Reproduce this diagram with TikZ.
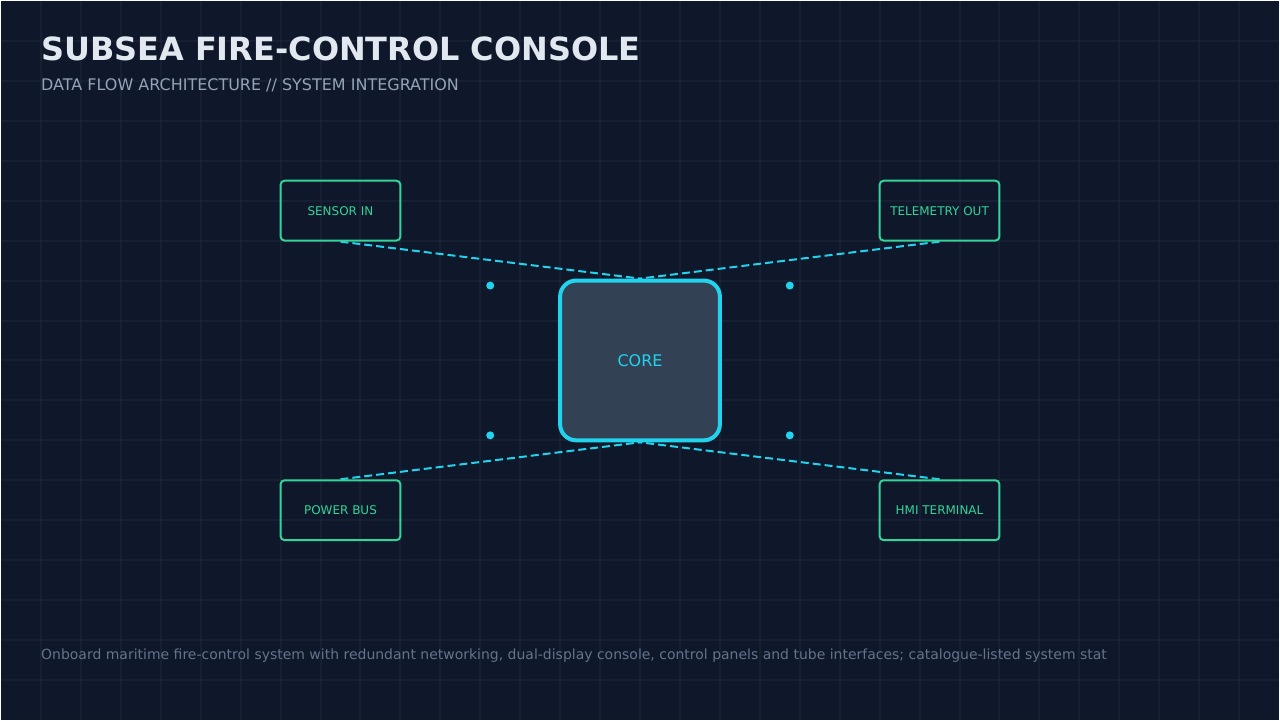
\documentclass[tikz,border=0pt]{standalone}
\usepackage{fontspec}
\setmainfont{DejaVu Sans}
\usepackage{xcolor}
\usepackage{tikz}

\definecolor{bgnavy}{HTML}{0F172A}
\definecolor{gridline}{HTML}{1E293B}
\definecolor{titlefg}{HTML}{E2E8F0}
\definecolor{subfg}{HTML}{94A3B8}
\definecolor{notefg}{HTML}{64748B}
\definecolor{portgreen}{HTML}{34D399}
\definecolor{linkcyan}{HTML}{22D3EE}
\definecolor{corefill}{HTML}{334155}

\pgfdeclarelayer{bg}
\pgfdeclarelayer{links}
\pgfsetlayers{bg,links,main}

\tikzset{
    port/.style={draw=portgreen, line width=1.5pt, rounded corners=3pt,
        minimum width=90pt, minimum height=45pt, inner sep=0pt,
        text=portgreen, font=\fontsize{9pt}{11pt}\selectfont},
    corebox/.style={draw=linkcyan, fill=corefill, line width=3pt, rounded corners=12pt,
        minimum width=120pt, minimum height=120pt, inner sep=0pt,
        text=linkcyan, font=\fontsize{12pt}{14pt}\selectfont},
    link/.style={draw=linkcyan, line width=1.5pt, dash pattern=on 6pt off 3pt},
    caption/.style={anchor=base west, inner sep=0pt}
}

\begin{document}
\begin{tikzpicture}[x=0.75pt, y=-0.75pt]
    \begin{pgfonlayer}{bg}
        \fill[bgnavy] (0, 0) rectangle (1280, 720);
        \foreach \x in {40,80,...,1240}
            \draw[gridline, opacity=0.5, line width=1.5pt] (\x, 0) -- (\x, 720);
        \foreach \y in {40,80,...,680}
            \draw[gridline, opacity=0.5, line width=1.5pt] (0, \y) -- (1280, \y);
    \end{pgfonlayer}
    \useasboundingbox (0, 0) rectangle (1280, 720);

    \node[caption, text=titlefg, font=\bfseries\fontsize{24pt}{28pt}\selectfont] (title) at (40, 60) {SUBSEA FIRE-CONTROL CONSOLE};
    \node[caption, text=subfg, font=\fontsize{12pt}{14pt}\selectfont] (subtitle) at (40, 90) {DATA FLOW ARCHITECTURE // SYSTEM INTEGRATION};

    \node[corebox] (core) at (640, 360) {CORE};
    \node[port] (sensor) at (340, 210) {SENSOR IN};
    \node[port] (telemetry) at (940, 210) {TELEMETRY OUT};
    \node[port] (power) at (340, 510) {POWER BUS};
    \node[port] (hmi) at (940, 510) {HMI TERMINAL};

    \begin{pgfonlayer}{links}
        \draw[link] (sensor.south) -- (core.north);
        \draw[link] (telemetry.south) -- (core.north);
        \draw[link] (power.north) -- (core.south);
        \draw[link] (hmi.north) -- (core.south);
    \end{pgfonlayer}

    \fill[linkcyan] (490, 285) circle (3pt);
    \fill[linkcyan] (790, 285) circle (3pt);
    \fill[linkcyan] (490, 435) circle (3pt);
    \fill[linkcyan] (790, 435) circle (3pt);

    \node[caption, text=notefg, font=\fontsize{10.5pt}{12pt}\selectfont] (note) at (40, 660) {Onboard maritime fire-control system with redundant networking, dual-display console, control panels and tube interfaces; catalogue-listed system stat};
\end{tikzpicture}
\end{document}
